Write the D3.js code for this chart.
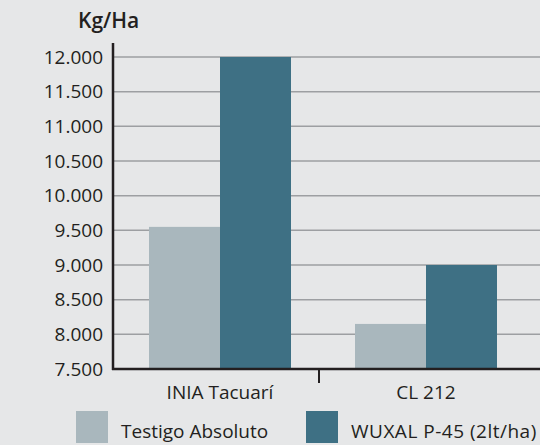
<!DOCTYPE html>
<html>
<head>
<meta charset="utf-8">
<script src="https://cdn.jsdelivr.net/npm/d3@7"></script>
<style>
  body { margin: 0; background: #e6e7e8; }
  text { font-family: "Open Sans", sans-serif; fill: #231f20; }
</style>
</head>
<body>
<div id="chart"></div>
<script>
const categories = ["INIA Tacuarí", "CL 212"];
const series = ["Testigo Absoluto", "WUXAL P-45 (2lt/ha)"];
const testigo = [9550, 8150];
const wuxal = [12000, 9000];
const yTicks = [7500, 8000, 8500, 9000, 9500, 10000, 10500, 11000, 11500, 12000];
const colors = ["#a9b7bd", "#3e7084"];

const width = 540, height = 445;
const svg = d3.select("#chart").append("svg")
  .attr("width", width)
  .attr("height", height);

svg.append("rect").attr("width", width).attr("height", height).attr("fill", "#e6e7e8");

const plotLeft = 113, plotBottom = 369, plotTop = 57;

const y = d3.scaleLinear().domain([7500, 12000]).range([plotBottom, plotTop]);
const x0 = d3.scaleBand().domain(categories).range([plotLeft, 525]);
const x1 = d3.scaleBand().domain(series).range([36, 178]);

// gridlines
svg.append("g")
  .selectAll("line")
  .data(yTicks.slice(1))
  .join("line")
    .attr("x1", plotLeft)
    .attr("x2", width)
    .attr("y1", d => y(d))
    .attr("y2", d => y(d))
    .attr("stroke", "#9d9fa2")
    .attr("stroke-width", 1.5);

// bars
const rows = categories.map((c, i) => ({ cat: c, vals: [testigo[i], wuxal[i]] }));
svg.append("g")
  .selectAll("g")
  .data(rows)
  .join("g")
    .attr("transform", d => `translate(${x0(d.cat)},0)`)
  .selectAll("rect")
  .data(d => d.vals.map((v, j) => ({ key: series[j], v, j })))
  .join("rect")
    .attr("x", d => x1(d.key))
    .attr("width", x1.bandwidth())
    .attr("y", d => y(d.v))
    .attr("height", d => plotBottom - y(d.v))
    .attr("fill", d => colors[d.j]);

// y axis
const fmt = d => d3.format(",")(d).replace(/,/g, ".");
const yAxis = svg.append("g")
  .attr("transform", `translate(${plotLeft},0)`)
  .call(d3.axisLeft(y).tickValues(yTicks).tickFormat(fmt).tickSize(0).tickPadding(10));
yAxis.select(".domain").remove();
yAxis.selectAll("text")
  .style("font-size", "19px")
  .style("font-family", "Open Sans, sans-serif")
  .attr("fill", "#231f20");

svg.append("line")
  .attr("x1", plotLeft).attr("x2", plotLeft)
  .attr("y1", 43).attr("y2", plotBottom + 1)
  .attr("stroke", "#231f20").attr("stroke-width", 2.5);

// x axis baseline
svg.append("line")
  .attr("x1", plotLeft - 1).attr("x2", width)
  .attr("y1", plotBottom).attr("y2", plotBottom)
  .attr("stroke", "#231f20").attr("stroke-width", 2.5);

// category divider tick
svg.append("line")
  .attr("x1", x0(categories[1])).attr("x2", x0(categories[1]))
  .attr("y1", plotBottom).attr("y2", plotBottom + 14)
  .attr("stroke", "#231f20").attr("stroke-width", 2);

// category labels
svg.append("g")
  .selectAll("text")
  .data(categories)
  .join("text")
    .attr("x", d => x0(d) + (x1.range()[0] + x1.range()[1]) / 2)
    .attr("y", 399)
    .attr("text-anchor", "middle")
    .style("font-size", "19px")
    .text(d => d);

// title
svg.append("text")
  .attr("x", 78).attr("y", 28)
  .style("font-size", "21px")
  .style("font-weight", 600)
  .text("Kg/Ha");

// legend
const legendX = [76, 306];
const legend = svg.append("g")
  .selectAll("g")
  .data(series)
  .join("g")
    .attr("transform", (d, i) => `translate(${legendX[i]},411)`);
legend.append("rect")
  .attr("width", 32).attr("height", 32)
  .attr("fill", (d, i) => colors[i]);
legend.append("text")
  .attr("x", 45).attr("y", 27)
  .style("font-size", "19px")
  .style("letter-spacing", (d, i) => i === 1 ? "0.5px" : "0px")
  .text(d => d);
</script>
</body>
</html>
